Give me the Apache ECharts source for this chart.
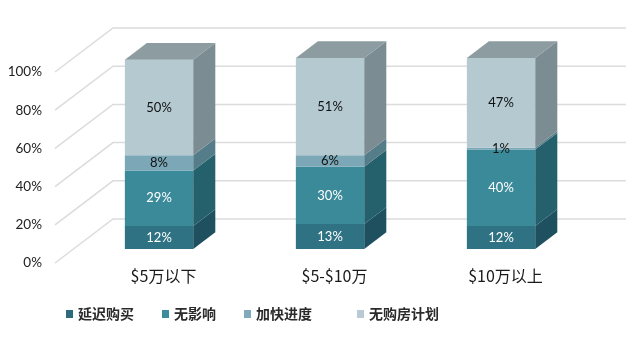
<!DOCTYPE html>
<html>
<head>
<meta charset="utf-8">
<script src="https://cdn.jsdelivr.net/npm/echarts@6/dist/echarts.min.js"></script>
<style>
html,body{margin:0;padding:0;background:#fff;}
#chart{width:640px;height:343px;}
</style>
</head>
<body>
<div id="chart"></div>
<script>
// ---- data ----
const categories = ['$5万以下', '$5-$10万', '$10万以上'];
const seriesNames = ['延迟购买', '无影响', '加快进度', '无购房计划'];
const delayBuy   = [12, 13, 12];
const noImpact   = [29, 30, 40];
const speedUp    = [8, 6, 1];
const noPlan     = [50, 51, 47];
const yTicks     = [0, 20, 40, 60, 80, 100];

// ---- style ----
const frontColors = ['#2f7283', '#3a8a9a', '#7ba7b6', '#b5c9d1'];
const sideColors  = ['#1e5060', '#25606d', '#557c89', '#7b8c92'];
const legendColors = ['#2d6a7b', '#3b8b99', '#82aabd', '#b8cbd5'];
const labelColors = ['#ffffff', '#ffffff', '#111111', '#111111'];
const topColor = '#8c9ca1';
const DEPTH = [58, -44];     // full depth of the box (px)
const F1 = 0.32, F2 = 0.70;  // bar front/back depth fractions
const gridColor = '#dcdcdc';

const allValues = [delayBuy, noImpact, speedUp, noPlan];

function barSeries(k) {
  const data = categories.map((c, i) => {
    let base = 0;
    for (let j = 0; j < k; j++) base += allValues[j][i];
    return [i, base, allValues[k][i]];
  });
  return {
    type: 'custom',
    name: seriesNames[k],
    coordinateSystem: 'cartesian2d',
    itemStyle: { color: legendColors[k] },
    encode: { x: 0, y: [1, 2] },
    data: data,
    z: 5,
    renderItem: function (params, api) {
      const i = api.value(0), b = api.value(1), v = api.value(2);
      const p0 = api.coord([i, b]);
      const p1 = api.coord([i, b + v]);
      const bw = api.size([1, 0])[0] * 0.4;
      const fx = DEPTH[0] * F1, fy = DEPTH[1] * F1;
      const dx = DEPTH[0] * (F2 - F1), dy = DEPTH[1] * (F2 - F1);
      const cx = p0[0] + fx;
      const yb = p0[1] + fy, yt = p1[1] + fy;
      const xl = cx - bw / 2, xr = cx + bw / 2;
      const children = [
        { type: 'rect', shape: { x: xl, y: yt, width: bw, height: yb - yt },
          style: { fill: frontColors[k] } },
        { type: 'polygon', shape: { points: [[xr, yb], [xr, yt], [xr + dx, yt + dy], [xr + dx, yb + dy]] },
          style: { fill: sideColors[k] } }
      ];
      if (k === allValues.length - 1) {
        children.push({ type: 'polygon',
          shape: { points: [[xl, yt], [xr, yt], [xr + dx, yt + dy], [xl + dx, yt + dy]] },
          style: { fill: topColor } });
      }
      children.push({ type: 'text', z2: 10,
        style: { text: v + '%', x: cx, y: (yt + yb) / 2, align: 'center', verticalAlign: 'middle',
          fill: labelColors[k], font: '13px Lato, "Noto Sans", sans-serif' } });
      return { type: 'group', children: children };
    }
  };
}

const wallSeries = {
  type: 'custom',
  name: 'walls',
  coordinateSystem: 'cartesian2d',
  encode: { x: 0, y: 1 },
  data: yTicks.map(t => [0, t]),
  silent: true,
  z: 1,
  renderItem: function (params, api) {
    const cs = params.coordSys;
    const y = api.coord([0, api.value(1)])[1];
    const x0 = cs.x;
    const bx = x0 + DEPTH[0], by = y + DEPTH[1];
    return {
      type: 'polyline',
      shape: { points: [[x0, y], [bx, by], [cs.x + cs.width + DEPTH[0], by]] },
      style: { stroke: gridColor, lineWidth: 1.5, fill: null }
    };
  }
};

const legendLefts = [61, 157, 239, 352];
const legends = seriesNames.map((n, k) => ({
  data: [n],
  left: legendLefts[k],
  top: 302,
  icon: 'rect',
  itemWidth: 7,
  itemHeight: 8,
  itemGap: 0,
  selectedMode: false,
  textStyle: { fontSize: 14, fontWeight: 'bold', color: '#2a2a2a', fontFamily: '"Noto Sans CJK SC", sans-serif' }
}));

const chart = echarts.init(document.getElementById('chart'));
chart.setOption({
  animation: false,
  backgroundColor: '#ffffff',
  color: legendColors,
  legend: legends,
  grid: { left: 55, right: 72, top: 72, bottom: 80, containLabel: false },
  xAxis: {
    type: 'category',
    data: categories,
    axisLine: { show: false },
    axisTick: { show: false },
    axisLabel: {
      margin: 5,
      padding: [0, 0, 0, 46],
      fontSize: 16,
      color: '#1a1a1a',
      fontFamily: '"Noto Sans CJK SC", sans-serif'
    }
  },
  yAxis: {
    type: 'value',
    min: 0, max: 100, interval: 20,
    axisLine: { show: false },
    axisTick: { show: false },
    splitLine: { show: false },
    axisLabel: {
      margin: 13,
      formatter: '{value}%',
      fontSize: 13.5,
      color: '#222',
      fontFamily: 'Lato, sans-serif'
    }
  },
  series: [wallSeries].concat(seriesNames.map((n, k) => barSeries(k)))
});
</script>
</body>
</html>
